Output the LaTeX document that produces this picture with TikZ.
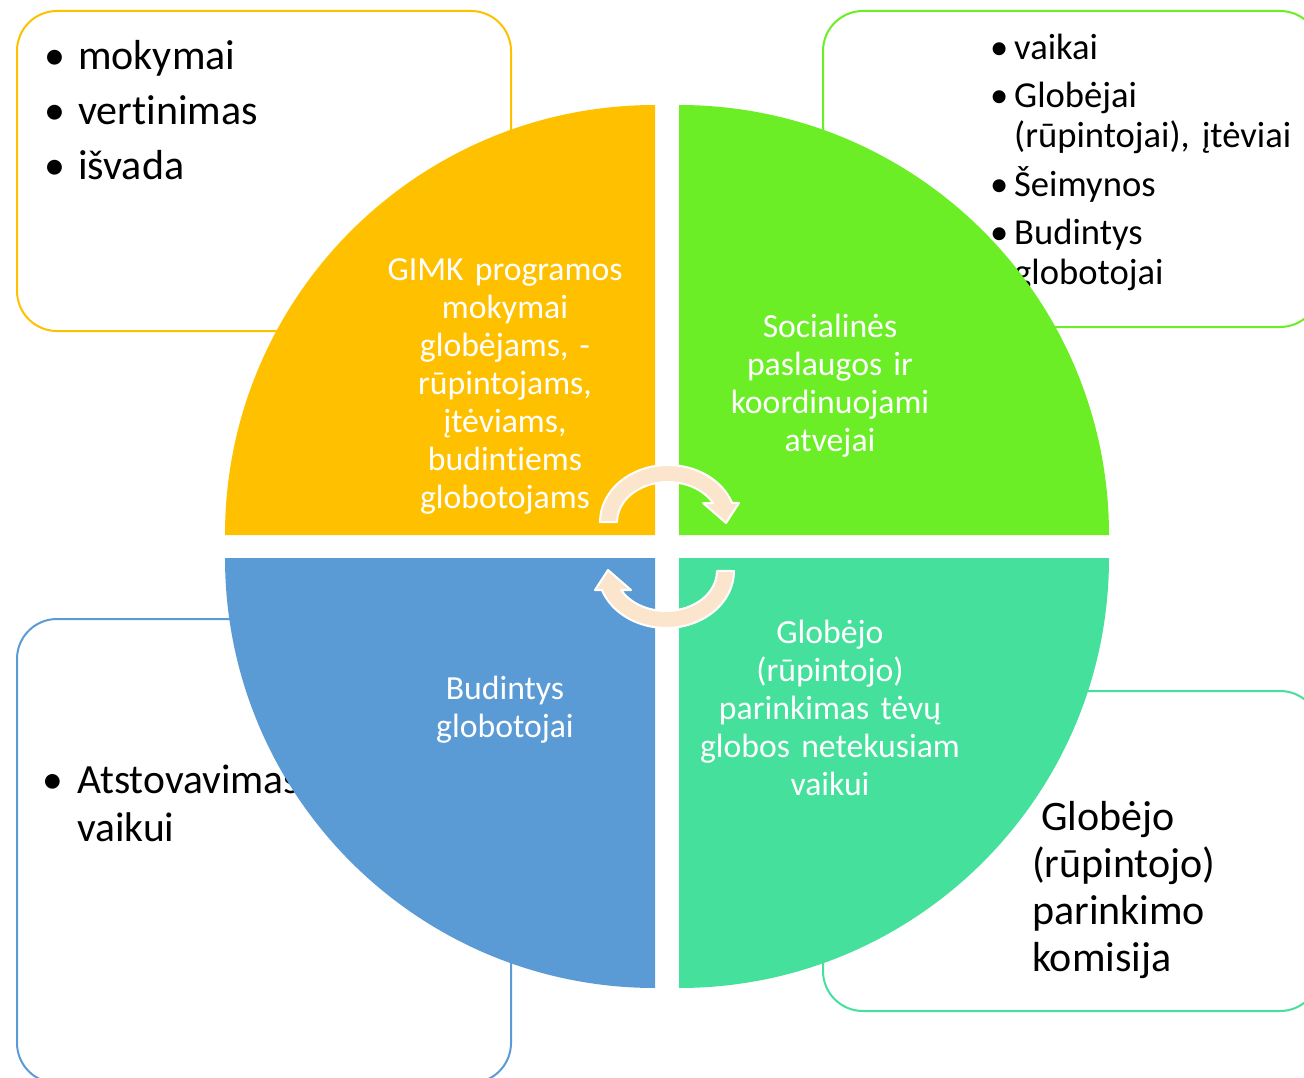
\documentclass[tikz,border=0pt]{standalone}
\usepackage{fontspec}
\setmainfont{Carlito}[Ligatures={NoCommon,NoContextual}]
\usepackage{tikz}
\usetikzlibrary{positioning}
\definecolor{qorange}{HTML}{FFC000}
\definecolor{qgreen}{HTML}{6BEE25}
\definecolor{qteal}{HTML}{44E09C}
\definecolor{qblue}{HTML}{5B9BD5}
\definecolor{arrpeach}{HTML}{FCE5CD}
\newcommand{\bitem}[1]{\makebox[#1][l]{•}}

\begin{document}
\begin{tikzpicture}[x=1pt, y=1pt,
    cbox/.style={rounded corners=40pt, line width=2pt},
    clist/.style={anchor=base west, inner sep=0pt, text width=#1, align=left},
    qtext/.style={anchor=base, inner sep=0pt, text width=300pt, align=center, text=white, font=\fontsize{33.7}{38}\selectfont},
    rarr/.style={fill=arrpeach, draw=white, line width=2pt, line join=round}]
    \useasboundingbox (0,0) rectangle (1304,-1078);
    % corner boxes
    \draw[cbox, qorange] (17,-11) rectangle (511,-331);
    \draw[cbox, qgreen] (823,-11) rectangle (1320,-327);
    \draw[cbox, qblue] (17,-619) rectangle (511,-1083);
    \draw[cbox, qteal] (823,-691) rectangle (1320,-1011);
    \node[clist=400pt, font=\fontsize{42}{55}\selectfont] (tltext) at (44,-70)
        {\bitem{34pt}mokymai\\ \bitem{34pt}vertinimas\\ \bitem{34pt}išvada};
    \node[clist=320pt, font=\fontsize{36.6}{40}\selectfont] (trtext) at (990,-60)
        {\bitem{24pt}vaikai\\[8pt] \bitem{24pt}Globėjai\\ \hspace*{24pt}(rūpintojai), įtėviai\\[9pt]
         \bitem{24pt}Šeimynos\\[8pt] \bitem{24pt}Budintys\\ \hspace*{24pt}globotojai};
    \node[clist=400pt, font=\fontsize{41.5}{48}\selectfont] (bltext) at (42,-793)
        {\bitem{35pt}Atstovavimas\\ \hspace*{35pt}vaikui};
    \node[clist=300pt, font=\fontsize{42}{47}\selectfont] (brtext) at (1032,-830)
        {\hspace*{9pt}Globėjo\\(rūpintojo)\\parinkimo\\komisija};
    % quarters of the circle
    \fill[qorange] (655,-535) -- (225,-535) arc[start angle=180, end angle=90, radius=430] -- cycle;
    \fill[qgreen] (679,-535) -- (679,-105) arc[start angle=90, end angle=0, radius=430] -- cycle;
    \fill[qteal] (679,-558) -- (1109,-558) arc[start angle=0, end angle=-90, radius=430] -- cycle;
    \fill[qblue] (655,-558) -- (655,-988) arc[start angle=270, end angle=180, radius=430] -- cycle;
    \node[qtext] (gimk) at (505,-280)
        {GIMK programos\\mokymai\\globėjams, -\\rūpintojams,\\įtėviams,\\budintiems\\globotojams};
    \node[qtext] (social) at (830,-337)
        {Socialinės\\paslaugos ir\\koordinuojami\\atvejai};
    \node[qtext] (parink) at (830,-643)
        {Globėjo\\(rūpintojo)\\parinkimas tėvų\\globos netekusiam\\vaikui};
    \node[qtext] (budint) at (505,-699)
        {Budintys\\globotojai};
    % cycle arrows
    \foreach \ang in {0,180}
        \path[rarr, rotate around={\ang:(667,-546.5)}] (600,-522)
            arc[start angle=180, end angle=19.5, x radius=68, y radius=57]
            -- (739,-503) -- (726,-523) -- (703,-503) -- (712.9,-503)
            arc[start angle=28.4, end angle=180, x radius=51, y radius=40] -- cycle;
\end{tikzpicture}
\end{document}
